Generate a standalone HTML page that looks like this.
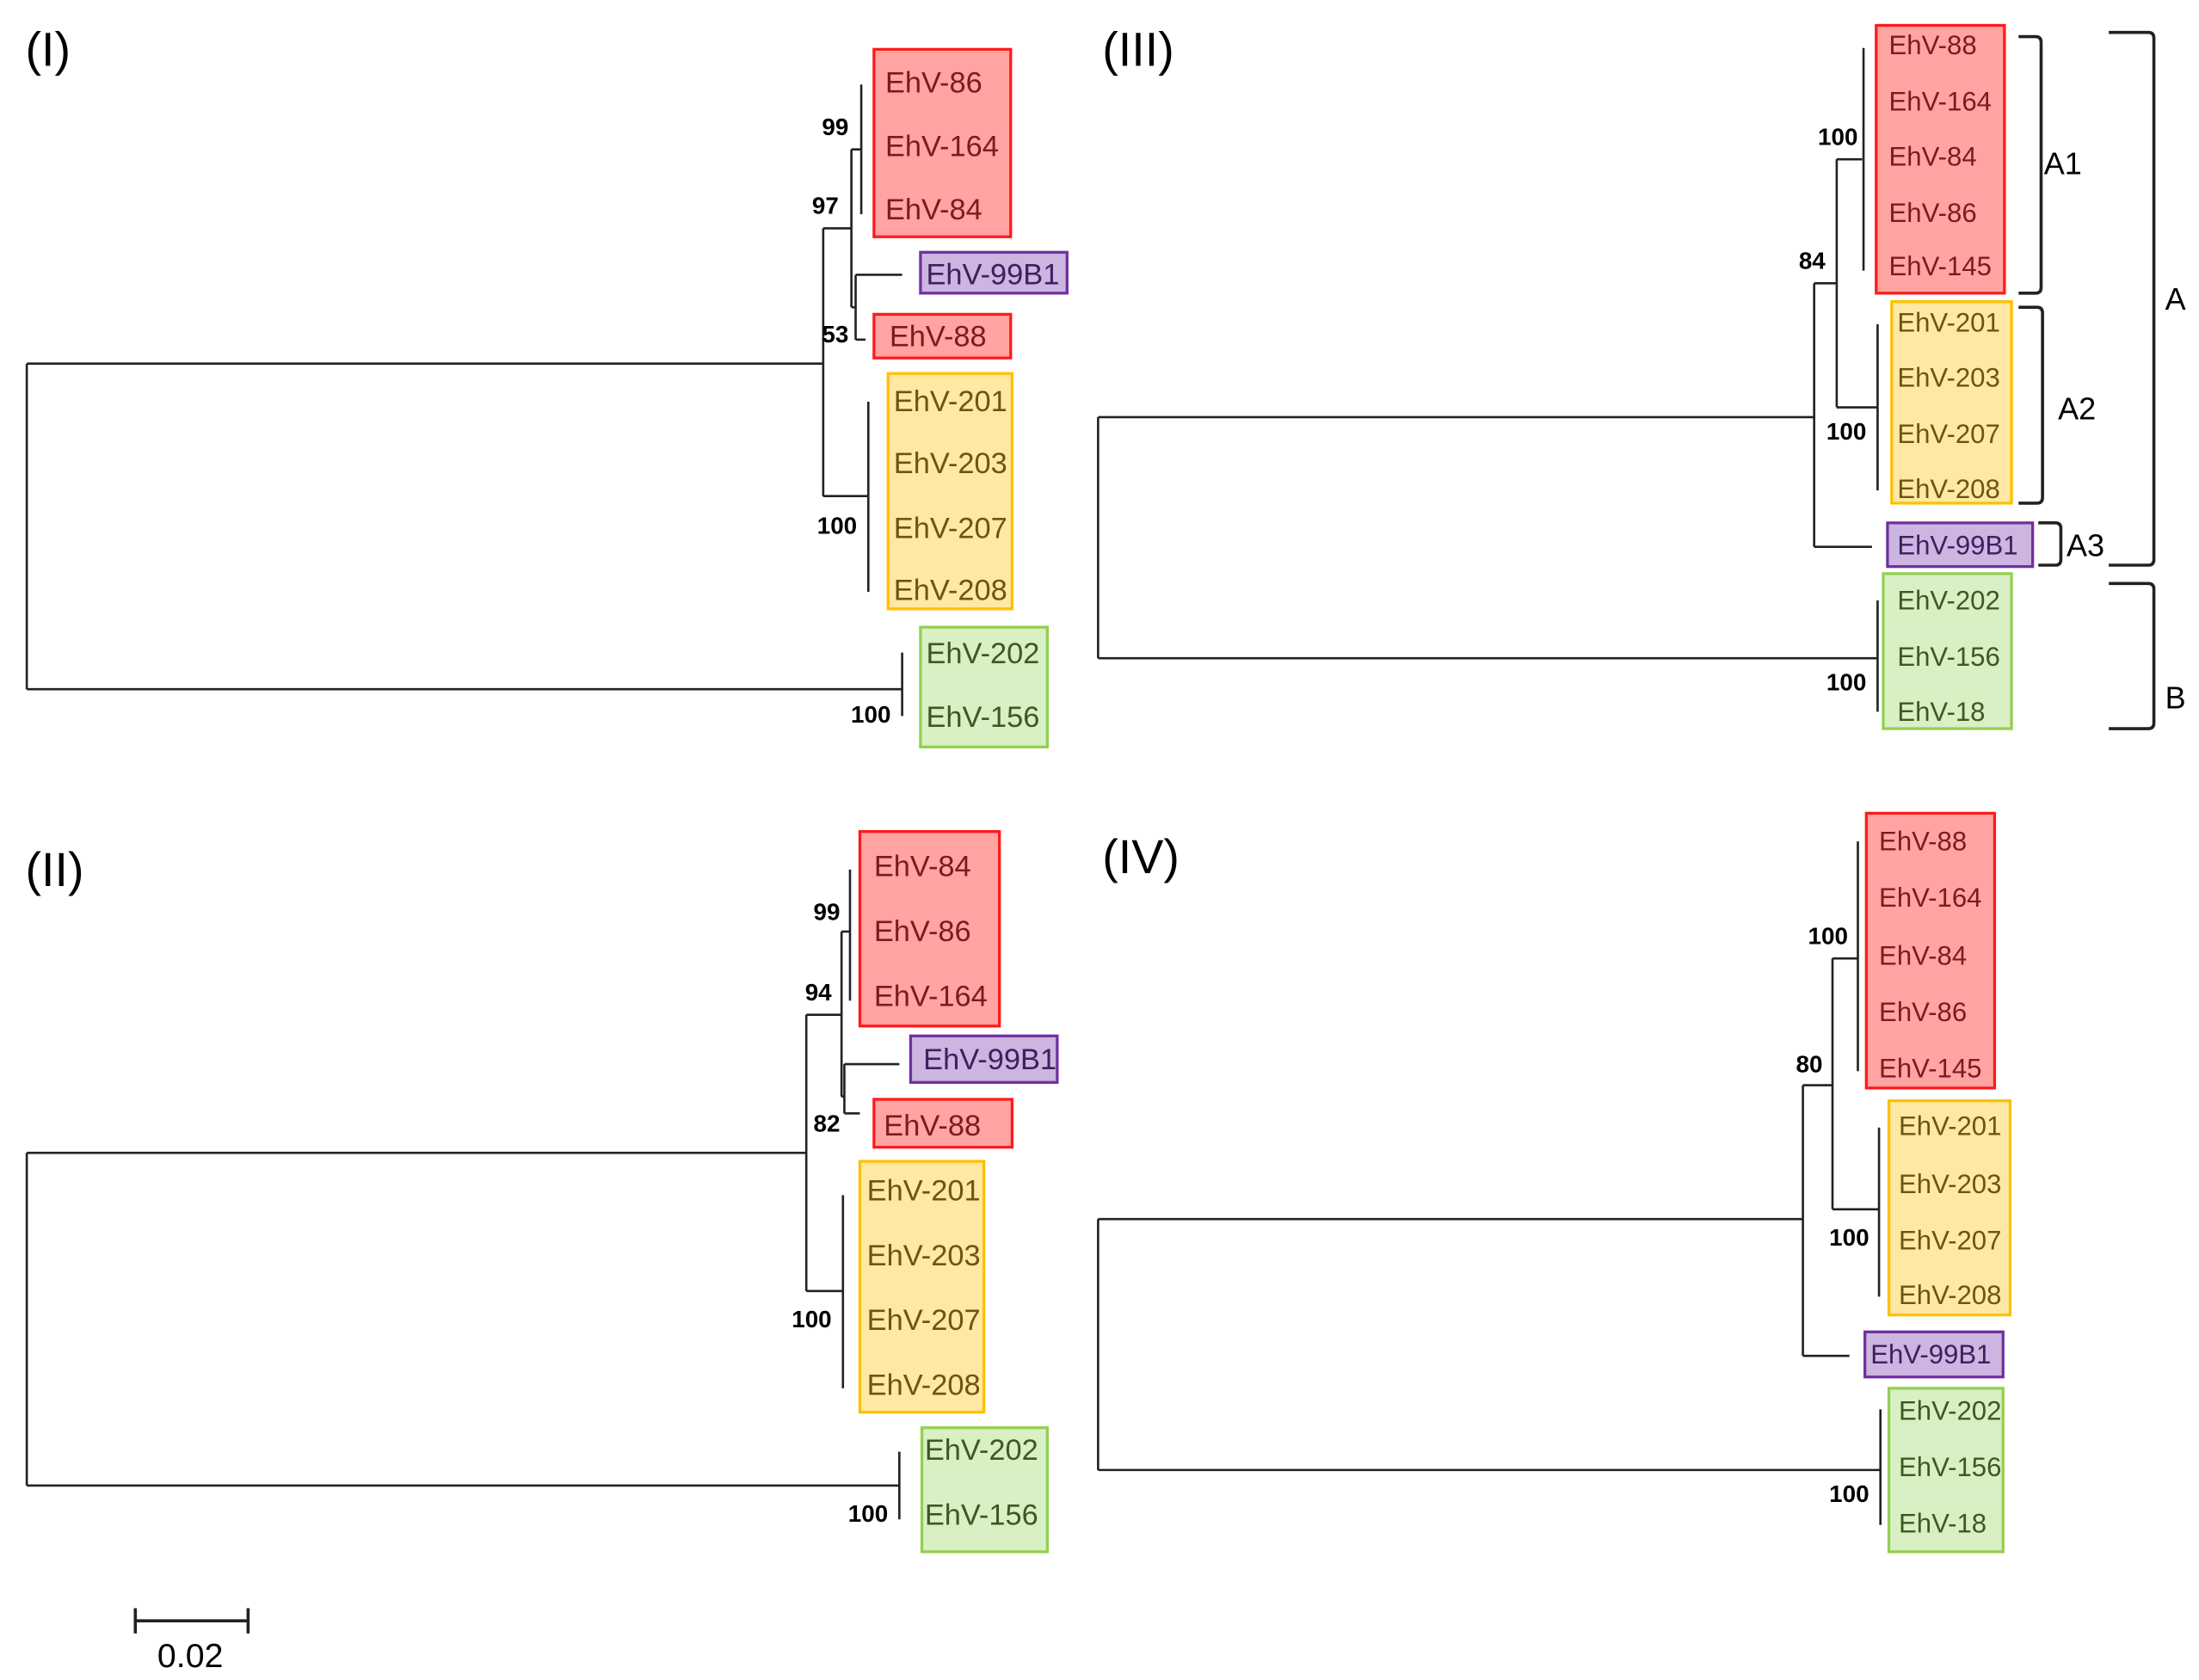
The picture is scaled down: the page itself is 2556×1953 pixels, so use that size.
<!DOCTYPE html>
<html><head><meta charset="utf-8"><style>
html,body{margin:0;padding:0;background:#fff}
svg{display:block}
text{font-family:"Liberation Sans",sans-serif}
.t{font-size:21px;dominant-baseline:central}
.s{font-size:19px;dominant-baseline:central}
.b{font-size:17px;font-weight:bold;dominant-baseline:central;text-anchor:end}
.p{font-size:34px;dominant-baseline:central}
.red{fill:#ffa3a3;stroke:#ff1a1a;stroke-width:2}
.yel{fill:#ffe8a3;stroke:#ffc000;stroke-width:2}
.pur{fill:#ccb5e0;stroke:#7030a0;stroke-width:2}
.grn{fill:#d9efc4;stroke:#92d050;stroke-width:2}
.rt{fill:#7a1c1c}.yt{fill:#6b5510}.pt{fill:#3d2060}.gt{fill:#3b5a20}
.l{stroke:#222;stroke-width:1.6;fill:none}
.k{stroke:#222;stroke-width:2.2;fill:none}
</style></head><body>
<svg width="2556" height="1953" viewBox="0 0 1560 1192" preserveAspectRatio="none" xmlns="http://www.w3.org/2000/svg">
<!-- Panel I -->
<text class="p" x="18" y="35">(I)</text>
<rect class="red" x="620" y="35" width="97" height="133"/>
<text class="t rt" x="628" y="59">EhV-86</text>
<text class="t rt" x="628" y="104">EhV-164</text>
<text class="t rt" x="628" y="149">EhV-84</text>
<rect class="pur" x="653" y="179" width="104" height="29"/>
<text class="t pt" x="657" y="195">EhV-99B1</text>
<rect class="red" x="620" y="223" width="97" height="31"/>
<text class="t rt" x="631" y="239">EhV-88</text>
<rect class="yel" x="630" y="265" width="88" height="167"/>
<text class="t yt" x="634" y="285">EhV-201</text>
<text class="t yt" x="634" y="329">EhV-203</text>
<text class="t yt" x="634" y="375">EhV-207</text>
<text class="t yt" x="634" y="419">EhV-208</text>
<rect class="grn" x="653" y="445" width="90" height="85"/>
<text class="t gt" x="657" y="464">EhV-202</text>
<text class="t gt" x="657" y="509">EhV-156</text>
<path class="l" d="M19 258V489M19 258H584M19 489H640M584 162V352M584 162H604M584 352H616M604 106V218M604 106H611M604 218H607M611 60V152M607 195V241M607 195H640M607 241H614M616 285V420M640 463V508"/>
<text class="b" x="602" y="90">99</text>
<text class="b" x="595" y="146">97</text>
<text class="b" x="602" y="237">53</text>
<text class="b" x="608" y="373">100</text>
<text class="b" x="632" y="507">100</text>

<!-- Panel II -->
<text class="p" x="18" y="617">(II)</text>
<rect class="red" x="610" y="590" width="99" height="138"/>
<text class="t rt" x="620" y="615">EhV-84</text>
<text class="t rt" x="620" y="661">EhV-86</text>
<text class="t rt" x="620" y="707">EhV-164</text>
<rect class="pur" x="646" y="735" width="104" height="33"/>
<text class="t pt" x="655" y="752">EhV-99B1</text>
<rect class="red" x="620" y="780" width="98" height="34"/>
<text class="t rt" x="627" y="799">EhV-88</text>
<rect class="yel" x="610" y="824" width="88" height="178"/>
<text class="t yt" x="615" y="845">EhV-201</text>
<text class="t yt" x="615" y="891">EhV-203</text>
<text class="t yt" x="615" y="937">EhV-207</text>
<text class="t yt" x="615" y="983">EhV-208</text>
<rect class="grn" x="654" y="1013" width="89" height="88"/>
<text class="t gt" x="656" y="1029">EhV-202</text>
<text class="t gt" x="656" y="1075">EhV-156</text>
<path class="l" d="M19 818V1054M19 818H572M19 1054H638M572 720V916M572 720H597M572 916H598M597 661V778M597 661H603M597 778H599M603 617V710M599 755V790M599 755H638M599 790H610M598 848V985M638 1030V1078"/>
<text class="b" x="596" y="647">99</text>
<text class="b" x="590" y="704">94</text>
<text class="b" x="596" y="797">82</text>
<text class="b" x="590" y="936">100</text>
<text class="b" x="630" y="1074">100</text>
<path class="k" d="M96 1150H176M96 1141V1159M176 1141V1159"/>
<text x="135" y="1175" style="font-size:24px;dominant-baseline:central;text-anchor:middle">0.02</text>

<!-- Panel III -->
<text class="p" x="782" y="35">(III)</text>
<rect class="red" x="1331" y="18" width="91" height="190"/>
<text class="s rt" x="1340" y="32">EhV-88</text>
<text class="s rt" x="1340" y="72">EhV-164</text>
<text class="s rt" x="1340" y="111">EhV-84</text>
<text class="s rt" x="1340" y="151">EhV-86</text>
<text class="s rt" x="1340" y="189">EhV-145</text>
<rect class="yel" x="1342" y="214" width="85" height="143"/>
<text class="s yt" x="1346" y="229">EhV-201</text>
<text class="s yt" x="1346" y="268">EhV-203</text>
<text class="s yt" x="1346" y="308">EhV-207</text>
<text class="s yt" x="1346" y="347">EhV-208</text>
<rect class="pur" x="1339" y="371" width="103" height="31"/>
<text class="s pt" x="1346" y="387">EhV-99B1</text>
<rect class="grn" x="1336" y="407" width="91" height="110"/>
<text class="s gt" x="1346" y="426">EhV-202</text>
<text class="s gt" x="1346" y="466">EhV-156</text>
<text class="s gt" x="1346" y="505">EhV-18</text>
<path class="l" d="M779 296V467M779 296H1287M779 467H1332M1287 201V388M1287 201H1303M1287 388H1328M1303 113V289M1303 113H1321M1303 289H1332M1322 34V192M1332 230V348M1332 426V505"/>
<path class="k" d="M1432 26H1444Q1448 26 1448 30V204Q1448 208 1444 208H1432M1432 218H1445Q1449 218 1449 222V353Q1449 357 1445 357H1432M1446 371H1458Q1462 371 1462 375V397Q1462 401 1458 401H1446M1496 23H1524Q1528 23 1528 27V397Q1528 401 1524 401H1496M1496 414H1524Q1528 414 1528 418V513Q1528 517 1524 517H1496"/>
<text x="1450" y="116" style="font-size:22px;dominant-baseline:central">A1</text>
<text x="1460" y="290" style="font-size:22px;dominant-baseline:central">A2</text>
<text x="1466" y="387" style="font-size:22px;dominant-baseline:central">A3</text>
<text x="1536" y="212" style="font-size:22px;dominant-baseline:central">A</text>
<text x="1536" y="495" style="font-size:22px;dominant-baseline:central">B</text>
<text class="b" x="1318" y="97">100</text>
<text class="b" x="1295" y="185">84</text>
<text class="b" x="1324" y="306">100</text>
<text class="b" x="1324" y="484">100</text>

<!-- Panel IV -->
<text class="p" x="782" y="608">(IV)</text>
<rect class="red" x="1324" y="577" width="91" height="195"/>
<text class="s rt" x="1333" y="597">EhV-88</text>
<text class="s rt" x="1333" y="637">EhV-164</text>
<text class="s rt" x="1333" y="678">EhV-84</text>
<text class="s rt" x="1333" y="718">EhV-86</text>
<text class="s rt" x="1333" y="758">EhV-145</text>
<rect class="yel" x="1340" y="781" width="86" height="152"/>
<text class="s yt" x="1347" y="799">EhV-201</text>
<text class="s yt" x="1347" y="840">EhV-203</text>
<text class="s yt" x="1347" y="880">EhV-207</text>
<text class="s yt" x="1347" y="919">EhV-208</text>
<rect class="pur" x="1323" y="945" width="98" height="32"/>
<text class="s pt" x="1327" y="961">EhV-99B1</text>
<rect class="grn" x="1340" y="985" width="81" height="116"/>
<text class="s gt" x="1347" y="1001">EhV-202</text>
<text class="s gt" x="1347" y="1041">EhV-156</text>
<text class="s gt" x="1347" y="1081">EhV-18</text>
<path class="l" d="M779 865V1043M779 865H1279M779 1043H1334M1279 770V962M1279 770H1300M1279 962H1312M1300 680V858M1300 680H1318M1300 858H1333M1318 597V760M1333 800V920M1334 1000V1082"/>
<text class="b" x="1311" y="664">100</text>
<text class="b" x="1293" y="755">80</text>
<text class="b" x="1326" y="878">100</text>
<text class="b" x="1326" y="1060">100</text>
</svg>
</body></html>
